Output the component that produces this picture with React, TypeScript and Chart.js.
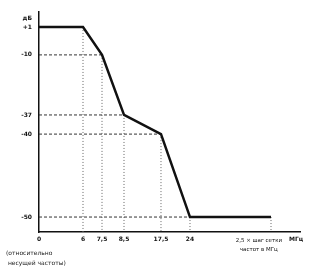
import React, { useEffect, useRef } from 'react';
import { Chart, registerables, LinearScale } from 'chart.js';

// ---- data ----
const freqValues = [0, 6, 7.5, 8.5, 17.5, 24, 30]; // 30 = nominal "2.5 × channel spacing"
const levelValues = [1, 1, -10, -37, -40, -50, -50];

const xTickValues = [0, 6, 7.5, 8.5, 17.5, 24, 29.1, 32.6];
const xTickLabels: (string | string[])[] = ['0', '6', '7,5', '8,5', '17,5', '24', ['2,5 × шаг сетки', 'частот в МГц'], 'МГц'];
const yTickValues = [2.8, 1, -10, -37, -40, -50];
const yTickLabels = ['дБ', '+1', '-10', '-37', '-40', '-50'];

const horizontalDropLevels = [-10, -37, -40, -50];
const noteLines = ['(относительно', ' несущей частоты)'];

// ---- schematic (non-proportional) scale ----
class PiecewiseScale extends LinearScale {
  static id = 'piecewise';
  static defaults = { ...(LinearScale as any).defaults };
  toDecimal(v: number) {
    const b: number[][] = (this as any).options.breaks;
    if (v <= b[0][0]) return b[0][1];
    for (let i = 1; i < b.length; i++) {
      if (v <= b[i][0]) {
        const [v0, f0] = b[i - 1];
        const [v1, f1] = b[i];
        return f0 + ((v - v0) / (v1 - v0)) * (f1 - f0);
      }
    }
    return b[b.length - 1][1];
  }
  getPixelForValue(value: number) {
    if (value === null || value === undefined || isNaN(value)) return NaN;
    return this.getPixelForDecimal(this.toDecimal(value));
  }
  getValueForPixel(pixel: number) {
    const d = this.getDecimalForPixel(pixel);
    const b: number[][] = (this as any).options.breaks;
    for (let i = 1; i < b.length; i++) {
      if (d <= b[i][1]) {
        const [v0, f0] = b[i - 1];
        const [v1, f1] = b[i];
        return v0 + ((d - f0) / (f1 - f0)) * (v1 - v0);
      }
    }
    return b[b.length - 1][0];
  }
}

Chart.register(...registerables, PiecewiseScale);

const yMin = -53;

const notePlugin = {
  id: 'note',
  afterDraw(chart: any) {
    const ctx = chart.ctx;
    ctx.save();
    ctx.fillStyle = '#222';
    ctx.font = '6px "DejaVu Sans"';
    ctx.textBaseline = 'middle';
    ctx.textAlign = 'left';
    noteLines.forEach((t, i) => ctx.fillText(t, 6, 253 + i * 10));
    ctx.restore();
  },
};

export default function App() {
  const ref = useRef<HTMLCanvasElement>(null);
  useEffect(() => {
    if (!ref.current) return;
    const mask = freqValues.map((f, i) => ({ x: f, y: levelValues[i] }));
    const datasets: any[] = [];
    // vertical drop lines
    freqValues.forEach((f, i) => {
      if (i === 0) return;
      datasets.push({
        data: [{ x: f, y: levelValues[i] }, { x: f, y: yMin }],
        borderColor: '#666',
        borderWidth: 1,
        borderDash: [1, 2],
        pointRadius: 0,
        order: 3,
      });
    });
    // horizontal drop lines
    horizontalDropLevels.forEach((lv) => {
      const idx = levelValues.indexOf(lv);
      datasets.push({
        data: [{ x: 0, y: lv }, { x: freqValues[idx], y: lv }],
        borderColor: '#333',
        borderWidth: 1,
        borderDash: [3, 2],
        pointRadius: 0,
        order: 2,
      });
    });
    datasets.push({
      data: mask,
      borderColor: '#111',
      borderWidth: 2.5,
      pointRadius: 0,
      order: 1,
    });

    const chart = new Chart(ref.current, {
      type: 'line',
      data: { datasets },
      plugins: [notePlugin],
      options: {
        animation: false,
        responsive: false,
        layout: { padding: { top: 12, right: 19, left: 0, bottom: 0 } },
        plugins: { legend: { display: false }, tooltip: { enabled: false } },
        scales: {
          x: {
            type: 'piecewise' as any,
            min: 0,
            max: 33,
            breaks: [
              [0, 0],
              [6, 0.1686],
              [7.5, 0.2414],
              [8.5, 0.3257],
              [17.5, 0.4674],
              [24, 0.5785],
              [30, 0.8889],
              [33, 1],
            ],
            afterFit: (s: any) => { s.height = 44; },
            afterBuildTicks: (s: any) => { s.ticks = xTickValues.map((v) => ({ value: v })); },
            grid: { display: false, drawTicks: false },
            border: { display: true, color: '#111', width: 1.5 },
            ticks: {
              autoSkip: false,
              maxRotation: 0,
              padding: 4,
              color: '#111',
              callback: (_v: any, i: number) => xTickLabels[i],
              font: (c: any) =>
                c.index === 6
                  ? { family: 'DejaVu Sans', size: 5.5, weight: 'normal', lineHeight: 1.6 }
                  : { family: 'DejaVu Sans', size: 6, weight: 'bold' },
            },
          } as any,
          y: {
            type: 'piecewise' as any,
            min: yMin,
            max: 4,
            breaks: [
              [-53, 0],
              [-50, 0.068],
              [-40, 0.445],
              [-37, 0.532],
              [-10, 0.805],
              [1, 0.932],
              [4, 1],
            ],
            afterFit: (s: any) => { s.width = 39; },
            afterBuildTicks: (s: any) => { s.ticks = yTickValues.map((v) => ({ value: v })); },
            grid: { display: false, drawTicks: false },
            border: { display: true, color: '#111', width: 1.5 },
            ticks: {
              autoSkip: false,
              padding: 7,
              color: '#111',
              callback: (_v: any, i: number) => yTickLabels[i],
              font: { family: 'DejaVu Sans', size: 6, weight: 'bold' },
            },
          } as any,
        },
      },
    });
    return () => chart.destroy();
  }, []);
  return (
    <div style={{ position: 'absolute', left: 0, top: 0, width: 319, height: 276, background: '#fff' }}>
      <canvas ref={ref} width={319} height={276} />
    </div>
  );
}
